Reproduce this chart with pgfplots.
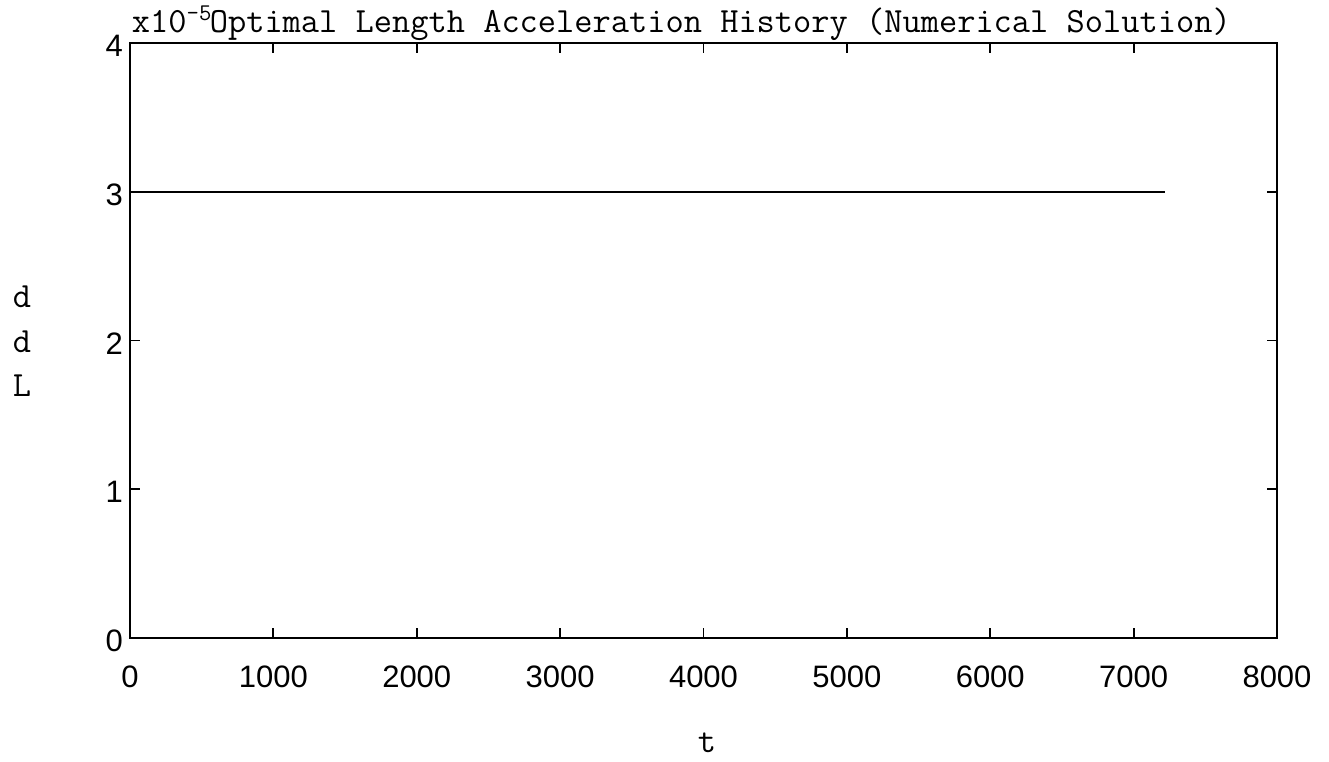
\documentclass[border=0pt]{standalone}
\usepackage{fontspec}
\setmainfont{Liberation Sans}
\usepackage{pgfplots}
\pgfplotsset{compat=1.18}

\newcommand\labelfont{\ttfamily\fontsize{17.7}{21}\selectfont}

\begin{document}
\begin{tikzpicture}
% overall page extent around the 573.5pt x 297.5pt axis box
\path[use as bounding box] (-65pt,-61.5pt) rectangle (599.5pt,319pt);
\begin{axis}[
  at={(0,0)}, anchor=south west,
  scale only axis, width=573.5pt, height=297.5pt,
  xmin=0, xmax=8000, ymin=0, ymax=4,
  xtick={0,1000,...,8000}, ytick={0,1,2,3,4},
  tick align=inside, major tick length=5pt,
  axis line style={line width=0.9pt, black},
  tick style={line width=0.9pt, black},
  /pgf/number format/assume math mode=true,
  /pgf/number format/set thousands separator={},
  ticklabel style={font=\fontsize{15.5}{18}\selectfont},
  xticklabel style={anchor=base, yshift=-24.5pt},
  yticklabel style={anchor=east, yshift=-1.5pt},
  clip=false,
]
% constant length acceleration (units of 1e-5)
\addplot[black, line width=0.9pt] coordinates {(0,3) (7220,3)};
\end{axis}
% title, with the axis multiplier written in front of it
\node[anchor=base west, inner sep=0pt, font=\labelfont]
  at (0.8pt,302.5pt)
  {x10\raisebox{0.36em}{\fontsize{12}{14}\selectfont -5}\kern-0.8pt Optimal Length Acceleration History (Numerical Solution)};
% stacked y label
\node[anchor=base, inner sep=0pt, font=\labelfont] at (-54pt,165pt) {d};
\node[anchor=base, inner sep=0pt, font=\labelfont] at (-54pt,142.5pt) {d};
\node[anchor=base, inner sep=0pt, font=\labelfont] at (-54pt,120.5pt) {L};
% x label
\node[anchor=base, inner sep=0pt, font=\labelfont] at (288.5pt,-57pt) {t};
\end{tikzpicture}
\end{document}
